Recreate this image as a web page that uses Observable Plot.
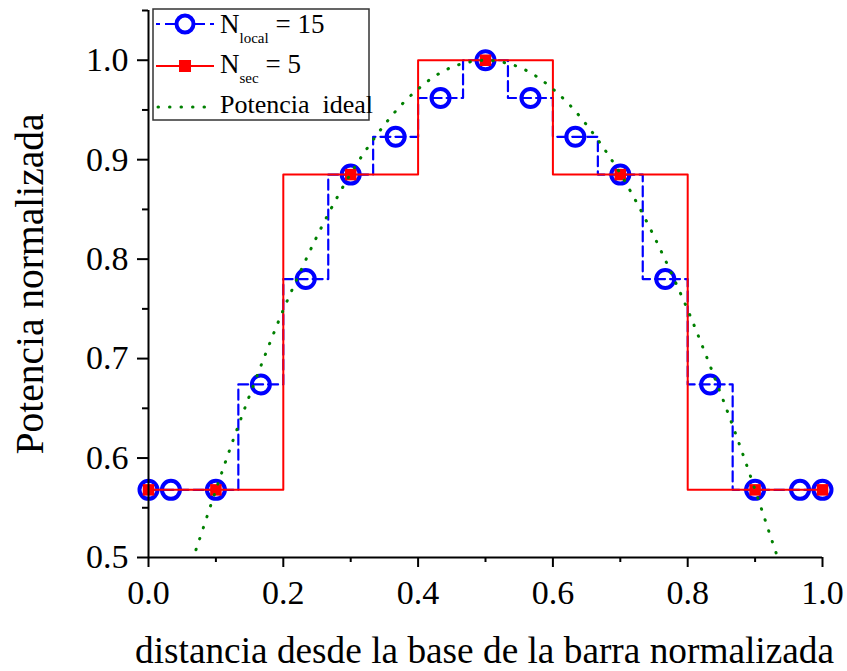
<!DOCTYPE html>
<html><head><meta charset="utf-8">
<script src="https://cdn.jsdelivr.net/npm/d3@7"></script>
<script src="https://cdn.jsdelivr.net/npm/@observablehq/plot@0.6"></script>
<style>body{margin:0;background:#fff}#chart{width:847px;height:671px}</style>
</head><body><div id="chart"></div>
<script>
// N_local = 15 step profile
const localEdges = [0, 0.0667, 0.1333, 0.2, 0.2667, 0.3333, 0.4, 0.4667, 0.5333, 0.6, 0.6667, 0.7333, 0.8, 0.8667, 0.9333, 1.0];
const localLevels = [0.568, 0.568, 0.674, 0.780, 0.885, 0.923, 0.962, 1.0, 0.962, 0.923, 0.885, 0.780, 0.674, 0.568, 0.568];
const localMarkX = [0, 0.0333, 0.1, 0.1667, 0.2333, 0.3, 0.3667, 0.4333, 0.5, 0.5667, 0.6333, 0.7, 0.7667, 0.8333, 0.9, 0.9667, 1.0];
const localMarkY = [0.568, 0.568, 0.568, 0.674, 0.780, 0.885, 0.923, 0.962, 1.0, 0.962, 0.923, 0.885, 0.780, 0.674, 0.568, 0.568, 0.568];
// N_sec = 5 step profile
const secEdges = [0, 0.2, 0.4, 0.6, 0.8, 1.0];
const secLevels = [0.568, 0.885, 1.0, 0.885, 0.568];
const secMarkX = [0, 0.1, 0.3, 0.5, 0.7, 0.9, 1.0];
const secMarkY = [0.568, 0.568, 0.885, 1.0, 0.885, 0.568, 0.568];
// ideal power curve
const idealX = [0.065, 0.075, 0.1, 0.125, 0.15, 0.175, 0.2, 0.225, 0.25, 0.275, 0.3, 0.325, 0.35, 0.375, 0.4, 0.425, 0.45, 0.475, 0.5,
  0.525, 0.55, 0.575, 0.6, 0.625, 0.65, 0.675, 0.7, 0.725, 0.75, 0.775, 0.8, 0.825, 0.85, 0.875, 0.9, 0.925, 0.935];
const idealY = [0.497, 0.517, 0.568, 0.617, 0.663, 0.707, 0.749, 0.787, 0.823, 0.856, 0.886, 0.912, 0.935, 0.955, 0.971, 0.984, 0.993, 0.998, 1.0,
  0.998, 0.993, 0.984, 0.971, 0.955, 0.935, 0.912, 0.886, 0.856, 0.823, 0.787, 0.749, 0.707, 0.663, 0.617, 0.568, 0.517, 0.497];
const xMajor = [0, 0.2, 0.4, 0.6, 0.8, 1.0];
const xMinor = [0.1, 0.3, 0.5, 0.7, 0.9];
const yMajor = [0.5, 0.6, 0.7, 0.8, 0.9, 1.0];
const yMinor = [0.55, 0.65, 0.75, 0.85, 0.95, 1.05];
const xTitle = "distancia desde la base de la barra normalizada";
const yTitle = "Potencia normalizada";

const localStep = localEdges.map((x, i) => ({x, y: localLevels[Math.min(i, localLevels.length - 1)]}));
const secStep = secEdges.map((x, i) => ({x, y: secLevels[Math.min(i, secLevels.length - 1)]}));
const localMarks = localMarkX.map((x, i) => ({x, y: localMarkY[i]}));
const secMarks = secMarkX.map((x, i) => ({x, y: secMarkY[i]}));
const ideal = idealX.map((x, i) => ({x, y: idealY[i]}));

const fmt = d3.format(".1f");
const chart = Plot.plot({
  width: 847, height: 671,
  marginLeft: 148, marginRight: 25, marginTop: 10, marginBottom: 114,
  style: {fontFamily: "Liberation Serif", fontSize: "34px", color: "black", background: "white"},
  x: {domain: [0, 1]},
  y: {domain: [0.5, 1.05]},
  marks: [
    Plot.line(localStep, {x: "x", y: "y", curve: "step-after", stroke: "#0000ff", strokeWidth: 2.2, strokeDasharray: "10,5"}),
    Plot.dot(localMarks, {x: "x", y: "y", r: 9, stroke: "#0000ff", strokeWidth: 4, fill: "none"}),
    Plot.line(secStep, {x: "x", y: "y", curve: "step-after", stroke: "#ff0000", strokeWidth: 2}),
    Plot.dot(secMarks, {x: "x", y: "y", symbol: "square", r: 6.5, fill: "#ff0000", stroke: "none"}),
    Plot.line(ideal, {x: "x", y: "y", curve: "catmull-rom", stroke: "#008000", strokeWidth: 3, strokeDasharray: "0.5,11", strokeLinecap: "round", clip: true}),
    Plot.ruleX([0], {stroke: "black", strokeWidth: 2}),
    Plot.ruleY([0.5], {stroke: "black", strokeWidth: 2}),
    Plot.axisX({ticks: xMajor, tickSize: 10, tickPadding: 12, tickFormat: fmt, strokeWidth: 2, label: null, fontSize: 34}),
    Plot.axisX({ticks: xMinor, tickSize: 5, tickFormat: () => "", strokeWidth: 2, label: null}),
    Plot.axisY({ticks: yMajor, tickSize: 11, tickPadding: 9, tickFormat: fmt, strokeWidth: 2, label: null, fontSize: 34}),
    Plot.axisY({ticks: yMinor, tickSize: 6, tickFormat: () => "", strokeWidth: 2, label: null}),
    Plot.text([yTitle], {frameAnchor: "left", textAnchor: "middle", rotate: -90, dx: -118, fontSize: 39.5, fill: "black", lineAnchor: "middle"}),
    Plot.text([xTitle], {frameAnchor: "bottom", textAnchor: "middle", dy: 94, dx: -1, fontSize: 37.3, fill: "black", lineAnchor: "middle"})
  ]
});
document.getElementById("chart").appendChild(chart);

// legend
const svg = d3.select(chart);
const lg = svg.append("g").attr("font-family", "Liberation Serif").attr("text-anchor", "start");
lg.append("rect").attr("x", 153).attr("y", 9).attr("width", 216).attr("height", 111)
  .attr("fill", "white").attr("stroke", "#333").attr("stroke-width", 1.5);
// row 1
lg.append("line").attr("x1", 156).attr("x2", 214).attr("y1", 24).attr("y2", 24)
  .attr("stroke", "#0000ff").attr("stroke-width", 2.2).attr("stroke-dasharray", "10,5").attr("stroke-dashoffset", 6);
lg.append("circle").attr("cx", 185).attr("cy", 24).attr("r", 8.5).attr("fill", "white").attr("stroke", "#0000ff").attr("stroke-width", 4);
const t1 = lg.append("text").attr("x", 220).attr("y", 33).attr("font-size", 27);
t1.append("tspan").text("N");
t1.append("tspan").attr("font-size", 15).attr("dy", 10).text("local");
t1.append("tspan").attr("dy", -10).text(" = 15");
// row 2
lg.append("line").attr("x1", 156).attr("x2", 214).attr("y1", 66).attr("y2", 66)
  .attr("stroke", "#ff0000").attr("stroke-width", 2);
lg.append("rect").attr("x", 179).attr("y", 60).attr("width", 12).attr("height", 12).attr("fill", "#ff0000");
const t2 = lg.append("text").attr("x", 220).attr("y", 73).attr("font-size", 27);
t2.append("tspan").text("N");
t2.append("tspan").attr("font-size", 15).attr("dy", 10).text("sec");
t2.append("tspan").attr("dy", -10).text(" = 5");
// row 3
lg.append("line").attr("x1", 158).attr("x2", 214).attr("y1", 107).attr("y2", 107)
  .attr("stroke", "#008000").attr("stroke-width", 3).attr("stroke-dasharray", "0.5,11").attr("stroke-linecap", "round");
lg.append("text").attr("x", 220).attr("y", 113).attr("font-size", 26).style("white-space", "pre").text("Potencia  ideal");
</script></body></html>
